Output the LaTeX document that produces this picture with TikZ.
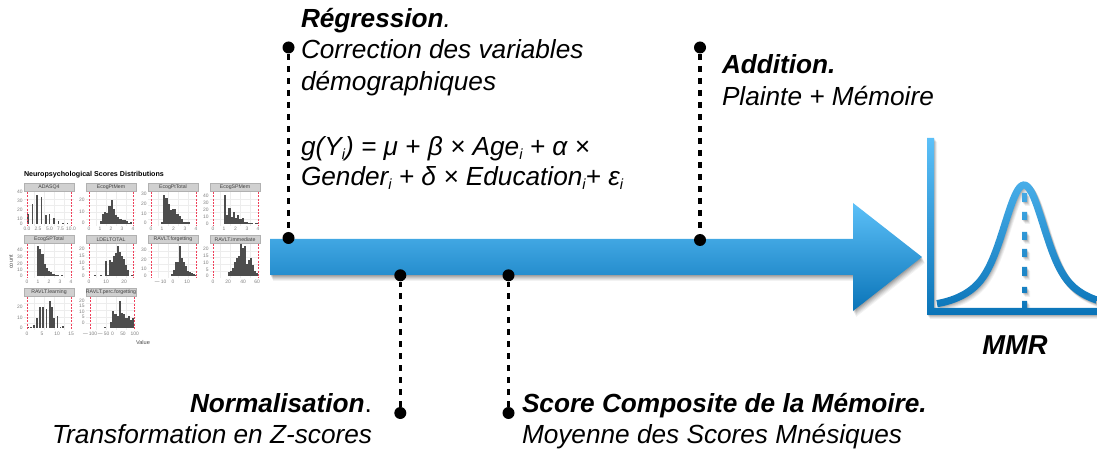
\documentclass[tikz,border=0pt]{standalone}
\usepackage{fontspec}
\setmainfont{Liberation Sans}
\definecolor{gradtop}{HTML}{5CC0F8}
\definecolor{gradbot}{HTML}{0A74B8}
\definecolor{bardark}{HTML}{4D4D4D}
\definecolor{tickgray}{HTML}{7F7F7F}
\definecolor{stripgray}{HTML}{D0D0D0}
\definecolor{gridgray}{HTML}{EDEDED}
\definecolor{reddash}{HTML}{F0405A}
\newcommand{\lbl}{\fontsize{19.65pt}{22pt}\selectfont\itshape}
\newcommand{\lblb}{\fontsize{19.65pt}{22pt}\selectfont\itshape\bfseries}
\newcommand{\sbi}{\raisebox{-0.12em}{\fontsize{11pt}{11pt}\selectfont\itshape i}}
\tikzset{
  softlayer/.style={fill=black,draw=none,fill opacity=#1},
  bluefill/.style={top color=gradtop,bottom color=gradbot,draw=none},
  dot/.style={circle,fill=black,draw=none,inner sep=0pt,minimum size=9pt},
  leader/.style={draw=black,line width=2.5pt,dash pattern=on 4.4pt off 4.6pt},
  txt/.style={anchor=base west,inner sep=0pt,outer sep=0pt},
  txtr/.style={anchor=base east,inner sep=0pt,outer sep=0pt},
  tick/.style={inner sep=0pt,text=tickgray,font=\fontsize{3.7pt}{4pt}\selectfont},
  strip/.style={fill=stripgray,draw=stripgray!85!black,line width=.4pt},
  striptext/.style={inner sep=0pt,text=black!75,font=\fontsize{3.9pt}{4pt}\selectfont},
  bar/.style={fill=bardark,draw=none},
  redline/.style={draw=reddash,line width=.6pt,dash pattern=on 1.5pt off 1pt},
  gridline/.style={draw=gridgray,line width=.4pt}
}
\newcommand{\arrowshape}{(270,239) -- (853,239) -- (853,203) -- (922,257) -- (853,311) -- (853,275) -- (270,275) -- cycle}
\newcommand{\iconshape}{
  (927,138) rectangle (934,315)
  (927,308) rectangle (1097,315)
  (1022,193) rectangle (1027,202)
  (1022,212) rectangle (1027,220)
  (1022,232) rectangle (1027,240)
  (1022,249) rectangle (1027,257)
  (1022,267) rectangle (1027,276)
  (1022,287) rectangle (1027,293)
  (1022,301) rectangle (1027,308)
  plot[domain=-87:73,samples=110,variable=\d] ({1024+\d+3.6*dg(\d)/nn(\d)},{fb(\d)-3.6/nn(\d)})
  -- plot[domain=73:-87,samples=110,variable=\d] ({1024+\d-3.6*dg(\d)/nn(\d)},{fb(\d)+3.6/nn(\d)})
  -- cycle}
% #1 id, #2 left px, #3 strip top, #4 plot bottom, #5 title, #6 red left, #7 red right, #8 bar width, #9 x/h list
\newcommand{\panel}[9]{%
  \foreach \g in {0.2,0.4,0.6,0.8}{
    \draw[gridline] ({#2+50*\g},{#3+9}) -- ({#2+50*\g},#4);
    \draw[gridline] (#2,{#4-(#4-#3-9)*\g}) -- ({#2+50},{#4-(#4-#3-9)*\g});
  }
  \foreach \bx/\bh in {#9}{
    \fill[bar] (\bx,#4-2) rectangle ({\bx+#8},{#4-2-\bh});
  }
  \draw[redline] (#6,{#3+9}) -- (#6,#4);
  \draw[redline] (#7,{#3+9}) -- (#7,#4);
  \draw[strip] (#2,#3) rectangle ({#2+50},{#3+8.7});
  \node[striptext] (title#1) at ({#2+25},{#3+4.4}) {#5};
}
\newcommand{\xticks}[3]{\foreach \tx/\tl [count=\ti] in {#3}{\node[tick] (xt#1\ti) at (\tx,#2) {\tl};}}
\newcommand{\yticks}[3]{\foreach \ty/\tl [count=\ti] in {#3}{\node[tick,anchor=east] (yt#1\ti) at (#2,\ty) {\tl};}}
\begin{document}
\begin{tikzpicture}[x=0.75pt,y=-0.75pt,
  declare function={
    gg(\d)=0.65*exp(-\d*\d/648)+0.35*exp(-\d*\d/2800);
    fb(\d)=306.5-121.5*gg(\d);
    dg(\d)=121.5*(0.65*exp(-\d*\d/648)*\d/324+0.35*exp(-\d*\d/2800)*\d/1400);
    nn(\d)=sqrt(1+dg(\d)*dg(\d));
  }]
\useasboundingbox (0,0) rectangle (1097,449);
% small chart
\node[txt,font=\fontsize{5.35pt}{5pt}\selectfont\bfseries] (charttitle) at (24,177) {Neuropsychological Scores Distributions};
\panel{a}{24}{183}{226}{ADASQ4}{27}{71}{1.9}{27/10,31.5/20,36/29,40.5/27,45/9,48.5/10,53/6,57.5/3,62/.6,66.5/1}
\panel{b}{86}{183}{226}{EcogPtMem}{89}{133}{2.2}{99.5/3,101.7/10,103.9/12,106.1/11,108.3/18,110.5/24,112.7/15,114.9/9,117.1/7,119.3/5,121.5/4,123.7/4,125.9/3,128.1/1,129.5/2}
\panel{c}{148}{183}{226}{EcogPtTotal}{151}{196}{2.2}{161/2,163.2/29,165.4/26,167.6/20,169.8/14,172/15,174.2/15,176.4/10,178.6/8,180.8/5,183/2,185.2/2,187.4/2}
\panel{d}{210}{183}{226}{EcogSPMem}{213}{258}{2.2}{224/29,226.2/9,228.4/16,230.6/7,232.8/12,235/6,237.2/9,239.4/5,241.6/6,243.8/2,246/2,248.2/1,250.4/1,254.8/.5,257/.5}
\panel{e}{24}{235}{278}{EcogSPTotal}{27}{71}{2.2}{37/30,39.2/27,41.4/22,43.6/12,45.8/8,48/5,50.2/4,52.4/2,54.6/1,56.8/1,61/.5}
\panel{f}{86}{235}{278}{LDELTOTAL}{89}{133}{2}{94/1,100/1,105/15,107/1,109/16,111/14,113/20,115/23,117/30,119/24,121/20,123/17,125/11,127/6,131/1}
\panel{g}{148}{235}{278}{RAVLT.forgetting}{151}{196}{2}{171/2,173/6,175/14,177/14,179/30,181/18,183/14,185/10,187/5,189/4,191/3,193/2,195/1}
\panel{h}{210}{235}{278}{RAVLT.immediate}{213}{258}{2}{228/4,230/5,232/8,234/14,236/18,238/20,240/32,242/28,244/30,246/12,248/16,250/18,252/11,254/5,256/3}
\panel{i}{24}{288}{330}{RAVLT.learning}{27}{71}{1.9}{27/1,30/1,32.7/3,36/10,39/21,42/21,45.5/19,49/27,50.9/21,53/10,56.5/12,59.5/1,62/2}
\panel{j}{86}{288}{330}{RAVLT.perc.forgetting}{90}{134.7}{2.2}{104/1,110/6,112.2/17,114.4/14,116.6/12,118.8/27,121/15,123.2/14,125.4/10,127.6/12,129.8/8,132/10}
\xticks{a}{228.5}{27/0.0,38/2.5,49.5/5.0,60.5/7.5,71/10.0}
\xticks{b}{228.5}{89/0,100/1,111/2,122/3,133/4}
\xticks{c}{228.5}{151/0,162/1,173.5/2,185/3,196/4}
\xticks{d}{228.5}{213/0,224/1,235.5/2,247/3,258/4}
\xticks{e}{282}{27/0,38/1,49/2,60/3,71/4}
\xticks{f}{282}{89/0,106/10,124/20}
\xticks{g}{282}{160/$-$10,173/0,187/10}
\xticks{h}{282}{213/0,228/20,243/40,257/60}
\xticks{i}{334}{27/0,42/5,57/10,71/15}
\xticks{j}{334}{89.5/$-$100,103/$-$50,112.5/0,123/50,134.7/100}
\yticks{a}{23}{192/40,201/30,210/20,219/10,223.5/0}
\yticks{b}{85}{200/20,212/10,223/0}
\yticks{c}{147}{194/30,204/20,214/10,223/0}
\yticks{d}{209}{196/40,203/30,210/20,217/10,224/0}
\yticks{e}{23}{250/40,257/30,264/20,270/10,276/0}
\yticks{f}{85}{249/20,256/15,263/10,269/5,276/0}
\yticks{g}{147}{250/30,260/20,269/10,276/0}
\yticks{h}{209}{249/20,256/15,263/10,270/5,276/0}
\yticks{i}{23}{307/20,318/10,328/0}
\yticks{j}{85}{301/20,306/15,312/10,317/5,323/0}
\node[tick,rotate=90,text=black!70,font=\fontsize{4.2pt}{4pt}\selectfont] (county) at (11,262) {count};
\node[tick,text=black!70,font=\fontsize{4.2pt}{4pt}\selectfont] (valuex) at (143,342) {Value};
% main arrow with soft shadow layers
\foreach \sx/\sy/\so in {3/6/.05,2.5/5/.06,2/4/.07,1.5/3/.08,1/2/.09,.5/1/.1}{
  \path[softlayer=\so,shift={(\sx,\sy)}] \arrowshape;
}
\path[bluefill] \arrowshape;
% MMR icon with soft shadow layers
\foreach \sx/\sy/\so in {3/4/.05,2.4/3.2/.06,1.8/2.4/.07,1.2/1.6/.08,.6/.8/.09}{
  \path[softlayer=\so,shift={(\sx,\sy)}] \iconshape;
}
\path[bluefill] \iconshape;
% dots and leaders
\node[dot] (d1a) at (288.5,47.5) {};
\node[dot] (d1b) at (288.5,238) {};
\node[dot] (d2a) at (700,47.5) {};
\node[dot] (d2b) at (700,240) {};
\node[dot] (d3a) at (400.3,275.3) {};
\node[dot] (d3b) at (400.3,413) {};
\node[dot] (d4a) at (508.5,275.3) {};
\node[dot] (d4b) at (508.5,413) {};
\draw[leader] (d1a) -- (d1b);
\draw[leader] (d2a) -- (d2b);
\draw[leader] (d3b) -- (d3a);
\draw[leader] (d4b) -- (d4a);
% texts
\node[txt] (t1) at (301,28) {\lblb Régression\textmd{.}};
\node[txt] (t2) at (301,59) {\lbl Correction des variables};
\node[txt] (t3) at (301,91) {\lbl démographiques};
\node[txt] (t4) at (301,156) {\lbl g(Y\sbi) = μ + β × Age\sbi\ + α ×};
\node[txt] (t5) at (301,186) {\lbl Gender\sbi\ + δ × Education\sbi+ ε\sbi};
\node[txt] (t6) at (722,74) {\lblb Addition.};
\node[txt] (t7) at (722,106) {\lbl Plainte + Mémoire};
\node[txtr] (t8) at (372,412) {\lblb Normalisation\textmd{\upshape.}};
\node[txtr] (t9) at (372,443) {\lbl Transformation en Z-scores};
\node[txt] (t10) at (522,412) {\lblb Score Composite de la Mémoire.};
\node[txt] (t11) at (522,443) {\lbl Moyenne des Scores Mnésiques};
\node[anchor=base,inner sep=0pt] (t12) at (1015,354) {\fontsize{20.5pt}{22pt}\selectfont\itshape\bfseries MMR};
\end{tikzpicture}
\end{document}
